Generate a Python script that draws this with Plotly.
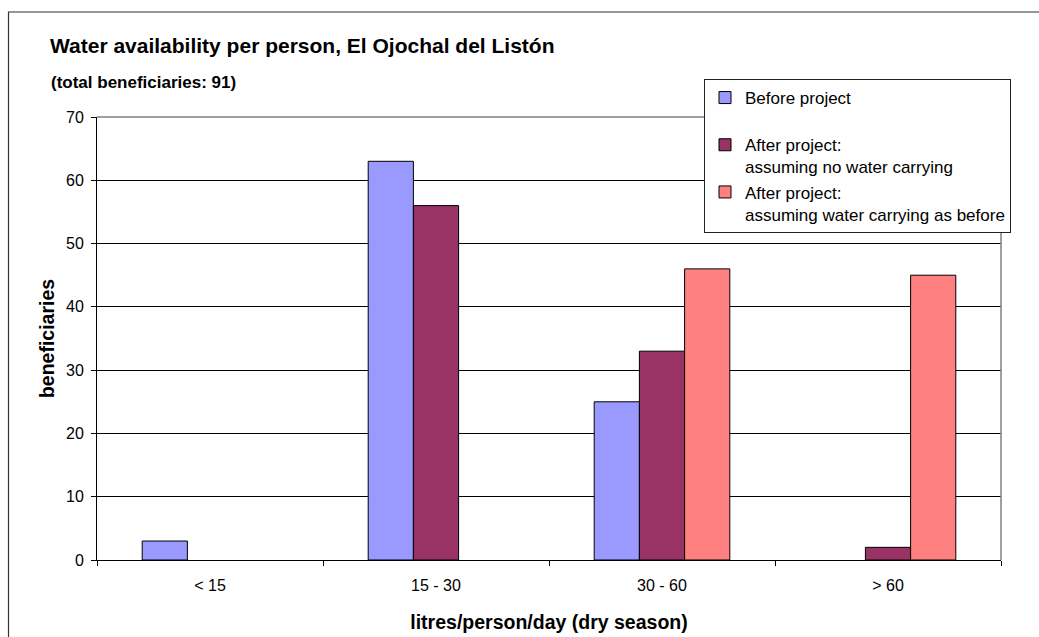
import plotly.graph_objects as go

# Water availability classes (litres/person/day, dry season)
categories = ["< 15", "15 - 30", "30 - 60", "> 60"]

# Number of beneficiaries in each class
before_project = [3, 63, 25, 0]
after_no_carrying = [0, 56, 33, 2]
after_carrying = [0, 0, 46, 45]

series_names = [
    "Before project<br>\u00a0",
    "After project:<br>assuming no water carrying",
    "After project:<br>assuming water carrying as before",
]
series_colors = ["#9999FF", "#993366", "#FF8080"]
series_values = [before_project, after_no_carrying, after_carrying]

y_ticks = [0, 10, 20, 30, 40, 50, 60, 70]

FONT = "Liberation Sans, Arial, sans-serif"

W, H = 1039, 637
ML, MR, MT, MB = 97, 38, 117, 77
PW, PH = W - ML - MR, H - MT - MB


def px_x(px):
    return (px - ML) / PW


def px_y(py):
    return (H - MB - py) / PH


fig = go.Figure()
for name, color, vals in zip(series_names, series_colors, series_values):
    # empty classes are left blank (slot kept) instead of a flat stub on the axis
    shown = [v if v > 0 else None for v in vals]
    fig.add_trace(go.Bar(
        x=categories, y=shown, name=name,
        marker=dict(color=color, line=dict(color="black", width=1)),
    ))

fig.update_layout(
    width=W, height=H,
    margin=dict(l=ML, r=MR, t=MT, b=MB, pad=0),
    paper_bgcolor="white", plot_bgcolor="white",
    font=dict(family=FONT, color="black", size=16),
    barmode="group", bargap=0.4, bargroupgap=0,
    showlegend=True,
    title=dict(
        text="<b>Water availability per person, El Ojochal del Listón</b>",
        x=50 / W, xanchor="left", y=1 - 46 / H, yanchor="middle",
        font=dict(family=FONT, size=21, color="black"),
    ),
    legend=dict(
        x=px_x(704), y=px_y(79), xanchor="left", yanchor="top",
        bgcolor="white", bordercolor="#222", borderwidth=1,
        font=dict(family=FONT, size=17, color="black"),
        valign="top", traceorder="normal", tracegroupgap=0,
        itemwidth=30,
    ),
    xaxis=dict(
        automargin=False,
        showline=True, linecolor="black", linewidth=1,
        ticks="outside", tickson="boundaries", ticklen=5, tickcolor="black",
        showgrid=False, ticklabelstandoff=11,
        tickfont=dict(family=FONT, size=16, color="black"),
        title=dict(text="<b>litres/person/day (dry season)</b>",
                   font=dict(family=FONT, size=19.5, color="black"),
                   standoff=22),
    ),
    yaxis=dict(
        automargin=False,
        range=[0, 70], tickvals=y_ticks,
        showline=True, linecolor="black", linewidth=1,
        ticks="outside", ticklen=5, tickcolor="black",
        showgrid=True, gridcolor="black", gridwidth=1,
        zeroline=False, ticklabelstandoff=4,
        tickfont=dict(family=FONT, size=16, color="black"),
        title=dict(text="<b>beneficiaries</b>",
                   font=dict(family=FONT, size=19.5, color="black"),
                   standoff=6),
    ),
    annotations=[dict(
        text="<b>(total beneficiaries: 91)</b>",
        xref="paper", yref="paper", x=px_x(49), y=px_y(82),
        xanchor="left", yanchor="middle", showarrow=False,
        font=dict(family=FONT, size=17, color="black"),
    )],
    shapes=[
        # outer chart frame
        dict(type="rect", xref="paper", yref="paper",
             x0=px_x(8.5), x1=px_x(1060), y0=px_y(12), y1=px_y(660),
             line=dict(color="#333", width=1.2), layer="below"),
        # grey plot-area border on top and right
        dict(type="line", xref="paper", yref="paper",
             x0=0, x1=1, y0=1, y1=1, line=dict(color="#808080", width=1.5)),
        dict(type="line", xref="paper", yref="paper",
             x0=1, x1=1, y0=0, y1=1, line=dict(color="#808080", width=1.5)),
    ],
)

fig.write_html("out.html")
